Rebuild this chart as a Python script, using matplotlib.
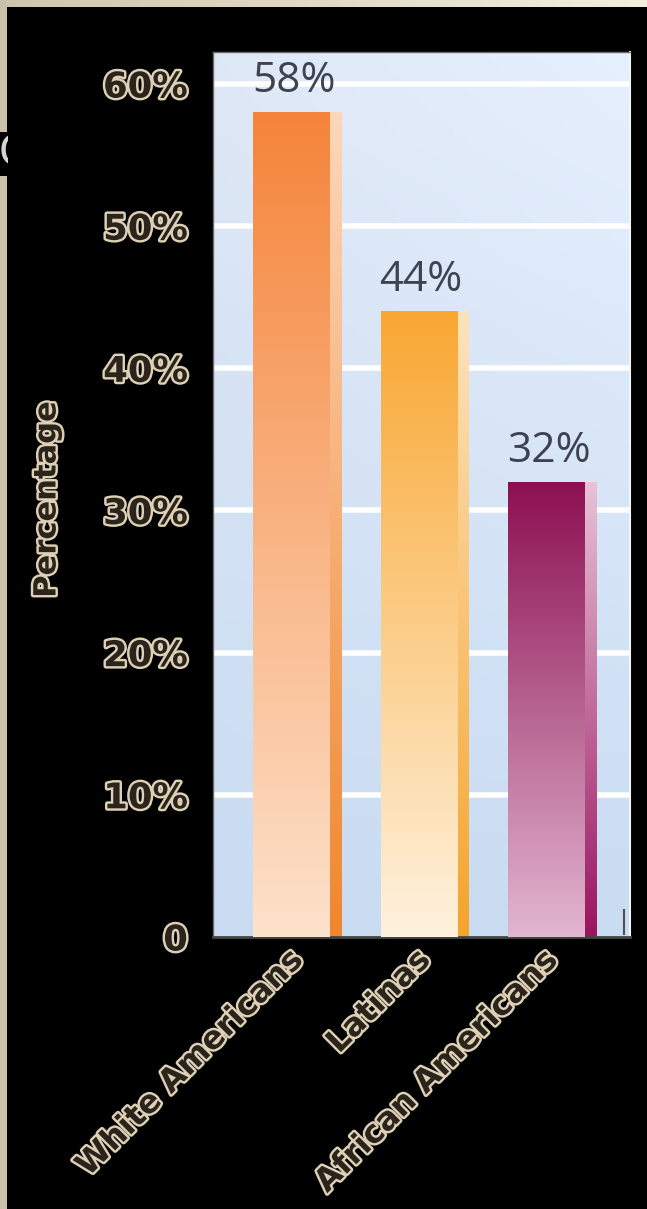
import numpy as np
import matplotlib
matplotlib.use("Agg")
import matplotlib.pyplot as plt
import matplotlib.patheffects as pe
from matplotlib.colors import to_rgb
from matplotlib.transforms import ScaledTranslation

# ---- data ----
categories = ["White Americans", "Latinas", "African Americans"]
values = [58, 44, 32]
value_labels = ["58%", "44%", "32%"]
yticks = [0, 10, 20, 30, 40, 50, 60]
ytick_labels = ["0", "10%", "20%", "30%", "40%", "50%", "60%"]
ylabel = "Percentage"

# ---- style ----
top_colors = ["#f5843a", "#f9a733", "#8c1052"]
bottom_colors = ["#fde2cb", "#fef2dd", "#e2b6d0"]
side_top = ["#fdd7bb", "#fde3bd", "#e8c2d6"]
side_bottom = ["#f0862e", "#f5a42c", "#9a1460"]

W, H = 647, 1209
fig = plt.figure(figsize=(W / 100, H / 100), dpi=100, facecolor="black")

# beige frame strips
deco = fig.add_axes([0, 0, 1, 1], zorder=-5)
deco.set_xlim(0, W); deco.set_ylim(H, 0); deco.axis("off")
deco.add_patch(plt.Rectangle((0, 0), 7, H, color="#cbc0a8", lw=0))
strip = np.linspace(0, 1, 256)[None, :, None]
c0, c1 = np.array(to_rgb("#cfc5ae")), np.array(to_rgb("#f3efdf"))
deco.imshow(c0 + (c1 - c0) * strip, extent=[0, W, 7, 0], aspect="auto")
deco.add_patch(plt.Rectangle((0, 132), 8, 44, color="black", lw=0))
deco.text(-1, 154, "C", color="#d4d4d4", fontsize=30, ha="left", va="center",
          family="DejaVu Sans", zorder=2)
deco.add_patch(plt.Rectangle((8, 120), 40, 70, color="black", lw=0, zorder=3))
deco.set_xlim(0, W); deco.set_ylim(H, 0)

# main axes
left, right, top, bottom = 213, 630, 52, 937
ax = fig.add_axes([left / W, 1 - bottom / H, (right - left) / W, (bottom - top) / H])
x = np.arange(len(categories))
xlim = (-0.616, 2.655)
ylim = (0, 62.25)

# background gradient
gy = np.linspace(0, 1, 256)[:, None, None]
gx = np.linspace(0, 1, 64)[None, :, None]
bg_top, bg_bot = np.array(to_rgb("#dfe8f6")), np.array(to_rgb("#c9dcf2"))
bg = bg_top + (bg_bot - bg_top) * gy + 0.03 * gx * (1 - gy)
ax.imshow(np.clip(bg, 0, 1), extent=[xlim[0], xlim[1], ylim[0], ylim[1]],
          aspect="auto", zorder=0, origin="upper")

for v in yticks[1:]:
    ax.axhline(v, color="white", lw=4, zorder=1)

bar_w = 0.6
side_w = 0.094
bars = ax.bar(x, values, width=bar_w, color="none", lw=0, zorder=3)
sides = ax.bar(x + bar_w / 2 + side_w / 2, values, width=side_w, color="none", lw=0, zorder=2)

def grad_fill(patch, ctop, cbot, z):
    bx, by = patch.get_x(), patch.get_y()
    bw, bh = patch.get_width(), patch.get_height()
    t = np.linspace(0, 1, 256)[:, None, None]
    a, b = np.array(to_rgb(ctop)), np.array(to_rgb(cbot))
    img = a + (b - a) * t
    im = ax.imshow(img, extent=[bx, bx + bw, by, by + bh], aspect="auto",
                   origin="upper", zorder=z)
    im.set_clip_path(patch)

for i, (b, s) in enumerate(zip(bars, sides)):
    grad_fill(b, top_colors[i], bottom_colors[i], 3)
    grad_fill(s, side_top[i], side_bottom[i], 2)

for i, v in enumerate(values):
    ax.annotate(value_labels[i], (x[i], v), xytext=(2, 31), textcoords="offset pixels",
                ha="center", va="center", fontsize=30.5, family="Open Sans",
                color="#3d4350", zorder=5)

ax.set_xlim(*xlim)
ax.set_ylim(*ylim)

outline = [pe.withStroke(linewidth=3.5, foreground="#ddd0b4")]
fill_col = "#2a241c"

ax.set_yticks(yticks)
ax.set_yticklabels(ytick_labels, fontsize=25.5, fontweight="bold",
                   family="DejaVu Sans", color=fill_col)
ax.tick_params(axis="y", length=0, pad=18)
for lbl in ax.get_yticklabels():
    lbl.set_path_effects(outline)

ax.set_xticks(x)
ax.set_xticklabels(categories, fontsize=23, fontweight="bold", family="DejaVu Sans",
                   color=fill_col, rotation=45, ha="right", va="center",
                   rotation_mode="anchor")
ax.tick_params(axis="x", length=0, pad=13)
off = ScaledTranslation(7 / 100, 0, fig.dpi_scale_trans)
for lbl in ax.get_xticklabels():
    lbl.set_path_effects(outline)
    lbl.set_transform(lbl.get_transform() + off)

fig.text(47 / W, 1 - 500 / H, ylabel, rotation=90, ha="center", va="center",
         fontsize=22, fontweight="bold", family="DejaVu Sans", color=fill_col,
         path_effects=outline)

for name, sp in ax.spines.items():
    sp.set_color("#6a6a6a")
    sp.set_linewidth(1)
ax.spines["bottom"].set_color("#454545")
ax.spines["bottom"].set_linewidth(2)
ax.spines["right"].set_color("#f2f4f8")
ax.spines["right"].set_linewidth(1.5)

ax.plot([0.986, 0.986], [0.003, 0.03], transform=ax.transAxes, color="#505050",
        lw=1.5, zorder=6, clip_on=False)

fig.savefig("out.png", dpi=100, facecolor="black")
